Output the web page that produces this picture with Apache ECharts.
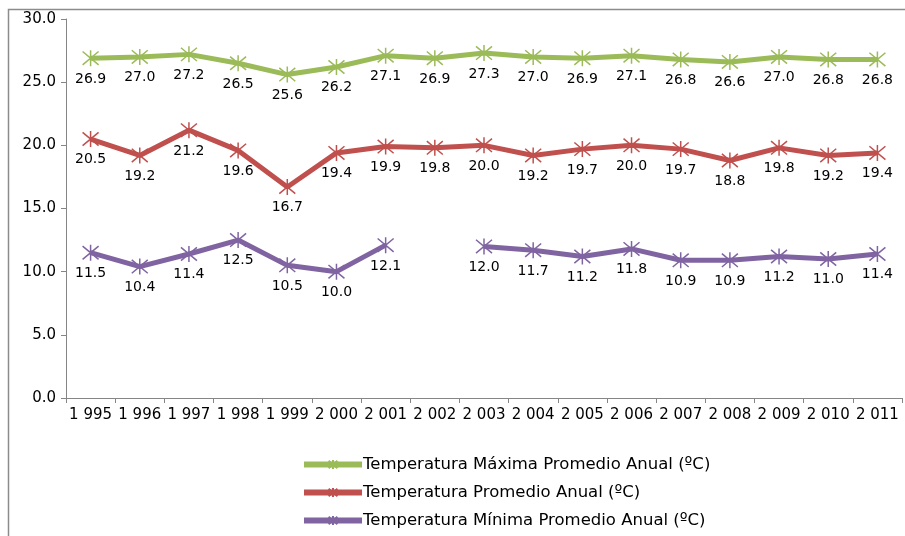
<!DOCTYPE html>
<html>
<head>
<meta charset="utf-8">
<script src="https://cdn.jsdelivr.net/npm/echarts@6/dist/echarts.min.js"></script>
<style>
  html, body { margin: 0; padding: 0; background: #fff; }
  #chart { width: 905px; height: 536px; }
</style>
</head>
<body>
<div id="chart"></div>
<script>
// años (eje x)
var years = ['1 995', '1 996', '1 997', '1 998', '1 999', '2 000', '2 001', '2 002', '2 003',
  '2 004', '2 005', '2 006', '2 007', '2 008', '2 009', '2 010', '2 011'];
// series
var tMax = [26.9, 27.0, 27.2, 26.5, 25.6, 26.2, 27.1, 26.9, 27.3, 27.0, 26.9, 27.1, 26.8, 26.6, 27.0, 26.8, 26.8];
var tProm = [20.5, 19.2, 21.2, 19.6, 16.7, 19.4, 19.9, 19.8, 20.0, 19.2, 19.7, 20.0, 19.7, 18.8, 19.8, 19.2, 19.4];
var tMin = [11.5, 10.4, 11.4, 12.5, 10.5, 10.0, 12.1, null, 12.0, 11.7, 11.2, 11.8, 10.9, 10.9, 11.2, 11.0, 11.4];
var names = ['Temperatura Máxima Promedio Anual (ºC)', 'Temperatura Promedio Anual (ºC)', 'Temperatura Mínima Promedio Anual (ºC)'];
var colors = ['#9BBB59', '#C0504D', '#8064A2'];

var star = 'path://M0,0 L10,10 M10,0 L0,10 M5,-1 L5,11';
var font = 'DejaVu Sans';

function serie(name, data, color) {
  return {
    name: name,
    type: 'line',
    data: data,
    connectNulls: false,
    symbol: star,
    symbolSize: 16,
    showAllSymbol: true,
    lineStyle: { color: color, width: 5 },
    itemStyle: { color: color, borderColor: color, borderWidth: 1.5 },
    label: {
      show: true,
      position: 'bottom',
      distance: 5,
      fontFamily: font,
      fontSize: 14,
      color: '#000',
      formatter: function (p) { return p.value == null ? '' : p.value.toFixed(1); }
    },
    emphasis: { disabled: true }
  };
}

var myChart = echarts.init(document.getElementById('chart'));
var option = {
  backgroundColor: '#fff',
  animation: false,
  color: colors,
  graphic: [{
    type: 'rect',
    shape: { x: 8.5, y: 9.5, width: 1000, height: 1000 },
    style: { fill: 'none', stroke: '#8c8c8c', lineWidth: 1.5 },
    silent: true
  }],
  grid: { left: 66, right: 3, top: 19, height: 379, containLabel: false },
  xAxis: {
    type: 'category',
    data: years,
    boundaryGap: true,
    axisLine: { lineStyle: { color: '#868686', width: 1 } },
    axisTick: { show: true, alignWithLabel: false, length: 5, lineStyle: { color: '#868686' } },
    axisLabel: { interval: 0, fontFamily: font, fontSize: 15, color: '#000', margin: 10 },
    splitLine: { show: false }
  },
  yAxis: {
    type: 'value',
    min: 0,
    max: 30,
    interval: 5,
    axisLine: { show: true, lineStyle: { color: '#868686', width: 1 } },
    axisTick: { show: true, inside: false, length: 5, lineStyle: { color: '#868686' } },
    axisLabel: {
      fontFamily: font, fontSize: 15, color: '#000', margin: 10,
      formatter: function (v) { return v.toFixed(1); }
    },
    splitLine: { show: false }
  },
  legend: {
    orient: 'vertical',
    left: 296,
    top: 451,
    itemWidth: 58,
    itemHeight: 11,
    itemGap: 11,
    data: names,
    lineStyle: { width: 6 },
    textStyle: { fontFamily: font, fontSize: 16.5, color: '#000', padding: [0, 0, 0, -4] }
  },
  series: [
    serie(names[0], tMax, colors[0]),
    serie(names[1], tProm, colors[1]),
    serie(names[2], tMin, colors[2])
  ]
};
myChart.setOption(option);
</script>
</body>
</html>
